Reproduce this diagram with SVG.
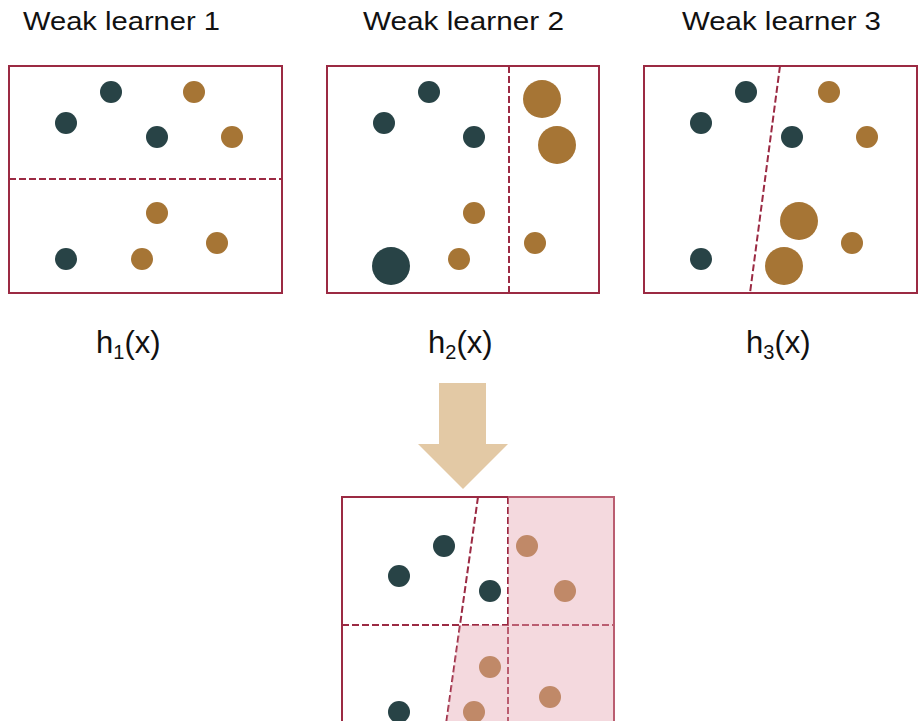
<svg xmlns="http://www.w3.org/2000/svg" width="924" height="721" viewBox="0 0 924 721">
<style>
.title{font-family:"Liberation Sans",Arial,sans-serif;font-size:26px;fill:#111}
.lbl{font-family:"Liberation Sans",Arial,sans-serif;font-size:31px;fill:#111}
.box{fill:#fff;stroke:#9b2a43;stroke-width:2}
.split{stroke:#9b2a43;stroke-width:2;stroke-dasharray:7 3;fill:none}
.d{fill:#284346}
.o{fill:#a67535}
</style>
<rect width="924" height="721" fill="#fff"/>
<g id="learner1">
<text class="title" x="23" y="30" textLength="197" lengthAdjust="spacingAndGlyphs">Weak learner 1</text>
<rect class="box" x="9" y="66" width="273" height="227"/>
<line class="split" x1="9" y1="179" x2="282" y2="179"/>
<circle class="d" cx="111" cy="92" r="11"/>
<circle class="d" cx="66" cy="123" r="11"/>
<circle class="d" cx="157" cy="137" r="11"/>
<circle class="o" cx="194" cy="92" r="11"/>
<circle class="o" cx="232" cy="137" r="11"/>
<circle class="o" cx="157" cy="213" r="11"/>
<circle class="o" cx="217" cy="243" r="11"/>
<circle class="o" cx="142" cy="259" r="11"/>
<circle class="d" cx="66" cy="259" r="11"/>
<text class="lbl" x="96" y="353">h<tspan font-size="20" dy="6">1</tspan><tspan dy="-6">(x)</tspan></text>
</g>
<g id="learner2">
<text class="title" x="363" y="30" textLength="201" lengthAdjust="spacingAndGlyphs">Weak learner 2</text>
<rect class="box" x="327" y="66" width="272" height="227"/>
<line class="split" x1="509" y1="66" x2="509" y2="293"/>
<circle class="d" cx="429" cy="92" r="11"/>
<circle class="d" cx="384" cy="123" r="11"/>
<circle class="d" cx="474" cy="137" r="11"/>
<circle class="o" cx="542" cy="99" r="19"/>
<circle class="o" cx="557" cy="145" r="19"/>
<circle class="o" cx="474" cy="213" r="11"/>
<circle class="o" cx="535" cy="243" r="11"/>
<circle class="o" cx="459" cy="259" r="11"/>
<circle class="d" cx="391" cy="266" r="19"/>
<text class="lbl" x="428" y="353">h<tspan font-size="20" dy="6">2</tspan><tspan dy="-6">(x)</tspan></text>
</g>
<g id="learner3">
<text class="title" x="682" y="30" textLength="199" lengthAdjust="spacingAndGlyphs">Weak learner 3</text>
<rect class="box" x="644" y="66" width="273" height="227"/>
<line class="split" x1="780" y1="66" x2="750" y2="293"/>
<circle class="d" cx="746" cy="92" r="11"/>
<circle class="d" cx="701" cy="123" r="11"/>
<circle class="d" cx="792" cy="137" r="11"/>
<circle class="o" cx="829" cy="92" r="11"/>
<circle class="o" cx="867" cy="137" r="11"/>
<circle class="o" cx="799" cy="221" r="19"/>
<circle class="o" cx="852" cy="243" r="11"/>
<circle class="o" cx="784" cy="266" r="19"/>
<circle class="d" cx="701" cy="259" r="11"/>
<text class="lbl" x="746" y="353">h<tspan font-size="20" dy="6">3</tspan><tspan dy="-6">(x)</tspan></text>
</g>
<g id="connectors">
<polygon points="439,383 486,383 486,444 508,444 463,489 418,444 439,444" fill="#e3c9a5"/>
</g>
<g id="ensemble">
<rect class="box" x="342" y="497" width="272" height="270"/>
<line class="split" x1="342" y1="625" x2="614" y2="625"/>
<line class="split" x1="508" y1="497" x2="508" y2="767"/>
<line class="split" x1="478" y1="497" x2="440" y2="767"/>
<circle class="d" cx="444" cy="546" r="11"/>
<circle class="d" cx="399" cy="576" r="11"/>
<circle class="d" cx="490" cy="591" r="11"/>
<circle class="o" cx="527" cy="546" r="11"/>
<circle class="o" cx="565" cy="591" r="11"/>
<circle class="o" cx="490" cy="667" r="11"/>
<circle class="o" cx="550" cy="697" r="11"/>
<circle class="o" cx="474" cy="712" r="11"/>
<circle class="d" cx="399" cy="712" r="11"/>
<polygon points="508,496 615,496 615,767 440,767 460,625 508,625" fill="#e5a4b0" fill-opacity="0.42"/>
</g>
</svg>
